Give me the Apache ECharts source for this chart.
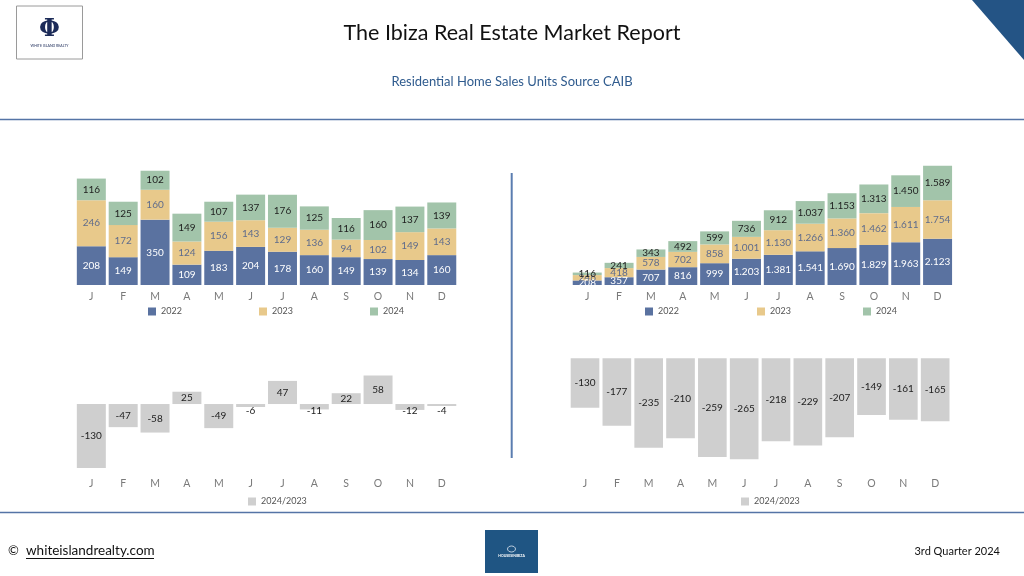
<!DOCTYPE html>
<html>
<head>
<meta charset="utf-8">
<script src="https://cdn.jsdelivr.net/npm/echarts@6/dist/echarts.min.js"></script>
<style>
html,body{margin:0;padding:0;background:#fff;}
#c{width:1024px;height:576px;}
</style>
</head>
<body>
<div id="c"></div>
<script>
// ---- data ----
const months = ['J','F','M','A','M','J','J','A','S','O','N','D'];
const years = ['2022','2023','2024'];
const monthly2022 = [208,149,350,109,183,204,178,160,149,139,134,160];
const monthly2023 = [246,172,160,124,156,143,129,136,94,102,149,143];
const monthly2024 = [116,125,102,149,107,137,176,125,116,160,137,139];
const cum2022 = [208,357,707,816,999,1203,1381,1541,1690,1829,1963,2123];
const cum2023 = [246,418,578,702,858,1001,1130,1266,1360,1462,1611,1754];
const cum2024 = [116,241,343,492,599,736,912,1037,1153,1313,1450,1589];
const diffMonthly = [-130,-47,-58,25,-49,-6,47,-11,22,58,-12,-4];
const diffCum = [-130,-177,-235,-210,-259,-265,-218,-229,-207,-149,-161,-165];
const diffName = '2024/2023';

const COL = {y22:'#5a72a0', y23:'#e8c98b', y24:'#a2c4aa', gray:'#cfcfcf'};
const FONT = 'Lato, "Noto Sans", sans-serif';

function fmtEU(v){ return String(v).replace(/\B(?=(\d{3})+(?!\d))/g,'.'); }

const chart = echarts.init(document.getElementById('c'), null, {renderer:'canvas'});

function xAx(gi, margin){
  return {type:'category', gridIndex:gi, data:months,
    axisLine:{show:false, onZero:false}, axisTick:{show:false},
    axisLabel:{color:'#7a7a7a', fontSize:10.5, fontFamily:FONT, margin:margin}};
}
function yAx(gi, min, max){
  return {type:'value', gridIndex:gi, min:min, max:max, show:false, splitLine:{show:false}};
}
function stackSeries(name, data, color, xi, stack, labelColor, fmt){
  return {name:name, type:'bar', stack:stack, xAxisIndex:xi, yAxisIndex:xi,
    data:data, barCategoryGap:'9%', itemStyle:{color:color},
    label:{show:true, position:'inside', color:labelColor, fontSize:10, fontFamily:FONT,
      formatter: p => fmt ? fmtEU(p.value) : String(p.value)}};
}
function legendAt(name, left, top){
  return {data:[name], left:left, top:top, icon:'rect', itemWidth:8, itemHeight:8, itemGap:6,
    selectedMode:false, textStyle:{color:'#555', fontSize:9, fontFamily:FONT}};
}

const diffLeftData = diffMonthly.map(v => Math.abs(v) < 15 && v < 0
  ? {value:v, label:{position:'insideTop', distance:2}} : v);

const option = {
  animation:false,
  textStyle:{fontFamily:FONT},
  grid:[
    {left:75.4, top:154.3, width:382.3, height:130.7},
    {left:571.3, top:154, width:382.2, height:131},
    {left:75.4, top:369.6, width:382.3, height:103.3},
    {left:569.1, top:358.3, width:382, height:114.3}
  ],
  xAxis:[xAx(0,6.5), xAx(1,6.5), xAx(2,5.5), xAx(3,6)],
  yAxis:[yAx(0,0,700), yAx(1,0,6000), yAx(2,-140,70), yAx(3,-300,0)],
  legend:[
    legendAt('2022',143,302), legendAt('2023',254,302), legendAt('2024',365,302),
    legendAt('2022',640,302), legendAt('2023',752,302), legendAt('2024',858,302),
    legendAt(diffName,243,492), legendAt(diffName,736,492)
  ],
  series:[
    stackSeries('2022', monthly2022, COL.y22, 0, 'm', '#ffffff', false),
    stackSeries('2023', monthly2023, COL.y23, 0, 'm', '#5f6c8c', false),
    stackSeries('2024', monthly2024, COL.y24, 0, 'm', '#1e1e1e', false),
    stackSeries('2022', cum2022, COL.y22, 1, 'c', '#ffffff', true),
    stackSeries('2023', cum2023, COL.y23, 1, 'c', '#5f6c8c', true),
    stackSeries('2024', cum2024, COL.y24, 1, 'c', '#1e1e1e', true),
    {name:diffName, type:'bar', xAxisIndex:2, yAxisIndex:2, data:diffLeftData, barCategoryGap:'9%',
      itemStyle:{color:COL.gray},
      label:{show:true, position:'inside', color:'#222', fontSize:10, fontFamily:FONT}},
    {name:diffName, type:'bar', xAxisIndex:3, yAxisIndex:3, data:diffCum, barCategoryGap:'10%',
      itemStyle:{color:COL.gray},
      label:{show:true, position:'inside', color:'#222', fontSize:10, fontFamily:FONT}}
  ],
  graphic:[
    // header logo box
    {type:'rect', shape:{x:16.5, y:6, width:66, height:53}, style:{fill:'#fff', stroke:'#9a9a9a', lineWidth:1}},
    {type:'text', x:49.5, y:30, style:{text:'Φ', fill:'#1c2b58', font:'bold 24px "DejaVu Serif", serif', align:'center', verticalAlign:'middle'}},
    {type:'text', x:49.5, y:46, style:{text:'WHITE ISLAND REALTY', fill:'#1c2b58', font:'3.5px '+FONT, align:'center', verticalAlign:'middle'}},
    // corner triangle
    {type:'polygon', shape:{points:[[972,0],[1024,0],[1024,60]]}, style:{fill:'#245485'}},
    // title & subtitle
    {type:'text', x:512, y:33, style:{text:'The Ibiza Real Estate Market Report', fill:'#111', font:'21.5px '+FONT, align:'center', verticalAlign:'middle'}},
    {type:'text', x:512, y:82, style:{text:'Residential Home Sales Units Source CAIB', fill:'#2f5b8e', font:'13px '+FONT, align:'center', verticalAlign:'middle'}},
    // rules
    {type:'line', shape:{x1:0, y1:119.5, x2:1024, y2:119.5}, style:{stroke:'#5574a6', lineWidth:1.5}},
    {type:'line', shape:{x1:0, y1:512.5, x2:1024, y2:512.5}, style:{stroke:'#5574a6', lineWidth:1.5}},
    {type:'line', shape:{x1:511.7, y1:173, x2:511.7, y2:458}, style:{stroke:'#5b7db0', lineWidth:2}},
    // footer
    {type:'text', x:8, y:551, style:{text:'©', fill:'#111', font:'13px '+FONT, verticalAlign:'middle'}},
    {type:'text', x:26, y:551, style:{text:'whiteislandrealty.com', fill:'#111', font:'13.5px '+FONT, verticalAlign:'middle'}},
    {type:'line', shape:{x1:26, y1:558.5, x2:154, y2:558.5}, style:{stroke:'#111', lineWidth:1}},
    {type:'text', x:1000, y:551, style:{text:'3rd Quarter 2024', fill:'#111', font:'11px '+FONT, align:'right', verticalAlign:'middle'}},
    {type:'rect', shape:{x:485, y:530, width:53, height:43}, style:{fill:'#1f5583'}},
    {type:'ellipse', shape:{cx:511.5, cy:549, rx:4, ry:3}, style:{fill:'none', stroke:'#dfe8f2', lineWidth:0.8}},
    {type:'text', x:511.5, y:556, style:{text:'HOUSESINIBIZA', fill:'#ffffff', font:'bold 3.5px '+FONT, align:'center', verticalAlign:'middle'}}
  ]
};
chart.setOption(option);
</script>
</body>
</html>
